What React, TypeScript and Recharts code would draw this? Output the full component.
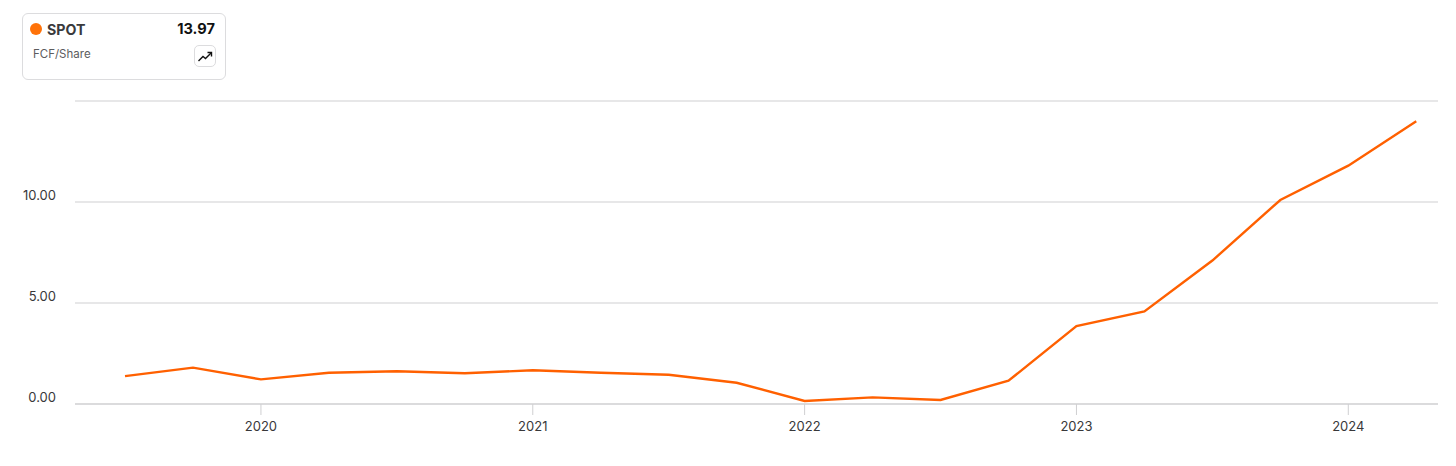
import React from 'react';
import { LineChart, Line, XAxis, YAxis, CartesianGrid } from 'recharts';

const quarters = [
  2019.5, 2019.75, 2020, 2020.25, 2020.5, 2020.75, 2021, 2021.25, 2021.5, 2021.75,
  2022, 2022.25, 2022.5, 2022.75, 2023, 2023.25, 2023.5, 2023.75, 2024, 2024.25,
];
const fcfPerShare = [
  1.38, 1.8, 1.22, 1.55, 1.62, 1.52, 1.67, 1.55, 1.45, 1.05,
  0.15, 0.33, 0.2, 1.15, 3.86, 4.58, 7.1, 10.1, 11.8, 14.0,
];
const yearTicks = [2020, 2021, 2022, 2023, 2024];
const valueTicks = [0, 5, 10, 15];

const data = quarters.map((q, i) => ({ q, fcf: fcfPerShare[i] }));

const FONT = 'Inter, sans-serif';
const ORANGE = '#ff6000';
const GRID = '#cfcfd1';

// labels sit above their gridline, right aligned, and the top one is not drawn
const ValueTick = (props: any) => {
  const { y, payload } = props;
  if (payload.value === 15) return null;
  return (
    <text x={56} y={y - 2.5} textAnchor="end" fontFamily={FONT} fontSize={13} fill="#38383a">
      {payload.value.toFixed(2)}
    </text>
  );
};

const LegendCard = () => (
  <div
    style={{
      position: 'absolute',
      left: 22,
      top: 13,
      width: 202,
      height: 65,
      border: '1px solid #dcdcde',
      borderRadius: 6,
      background: '#fff',
      fontFamily: FONT,
    }}
  >
    <span style={{ position: 'absolute', left: 7, top: 9, width: 12, height: 12, borderRadius: '50%', background: '#ff7208' }} />
    <span style={{ position: 'absolute', left: 24, top: 7, fontSize: 14.2, lineHeight: '17px', fontWeight: 700, color: '#3a3a3c' }}>SPOT</span>
    <span style={{ position: 'absolute', right: 10, top: 7, fontSize: 14.6, lineHeight: '17px', fontWeight: 700, color: '#111' }}>13.97</span>
    <span style={{ position: 'absolute', left: 10, top: 33, fontSize: 11.5, lineHeight: '15px', color: '#5c5c5e' }}>FCF/Share</span>
    <div
      style={{
        position: 'absolute',
        left: 171,
        top: 31,
        width: 20,
        height: 20,
        border: '1px solid #dcdcde',
        borderRadius: 5,
      }}
    >
      <svg width={20} height={20} viewBox="0 0 20 20">
        <polyline points="3.5,15 8,10.5 10.5,12.5 16,7" fill="none" stroke="#111" strokeWidth={1.4} />
        <polyline points="12.5,6.5 16.5,6.5 16.5,10.5" fill="none" stroke="#111" strokeWidth={1.4} />
      </svg>
    </div>
  </div>
);

const App = () => (
  <div style={{ position: 'absolute', left: 0, top: 0, width: 1456, height: 466, background: '#fff' }}>
    <LineChart
      width={1456}
      height={466}
      data={data}
      margin={{ top: 101, right: 18, bottom: 0, left: 0 }}
    >
      <CartesianGrid vertical={false} stroke={GRID} strokeWidth={1} />
      <XAxis
        dataKey="q"
        type="number"
        scale="linear"
        domain={[2019.316, 2024.33]}
        ticks={yearTicks}
        allowDataOverflow
        height={62}
        stroke={GRID}
        tickSize={11}
        tickMargin={7}
        tick={{ fontFamily: FONT, fontSize: 13, fill: '#38383a' }}
      />
      <YAxis
        type="number"
        domain={[0, 15]}
        ticks={valueTicks}
        width={75}
        axisLine={false}
        tickLine={false}
        tick={<ValueTick />}
      />
      <Line
        type="linear"
        dataKey="fcf"
        stroke={ORANGE}
        strokeWidth={2.4}
        dot={false}
        isAnimationActive={false}
      />
    </LineChart>
    <LegendCard />
  </div>
);

export default App;
